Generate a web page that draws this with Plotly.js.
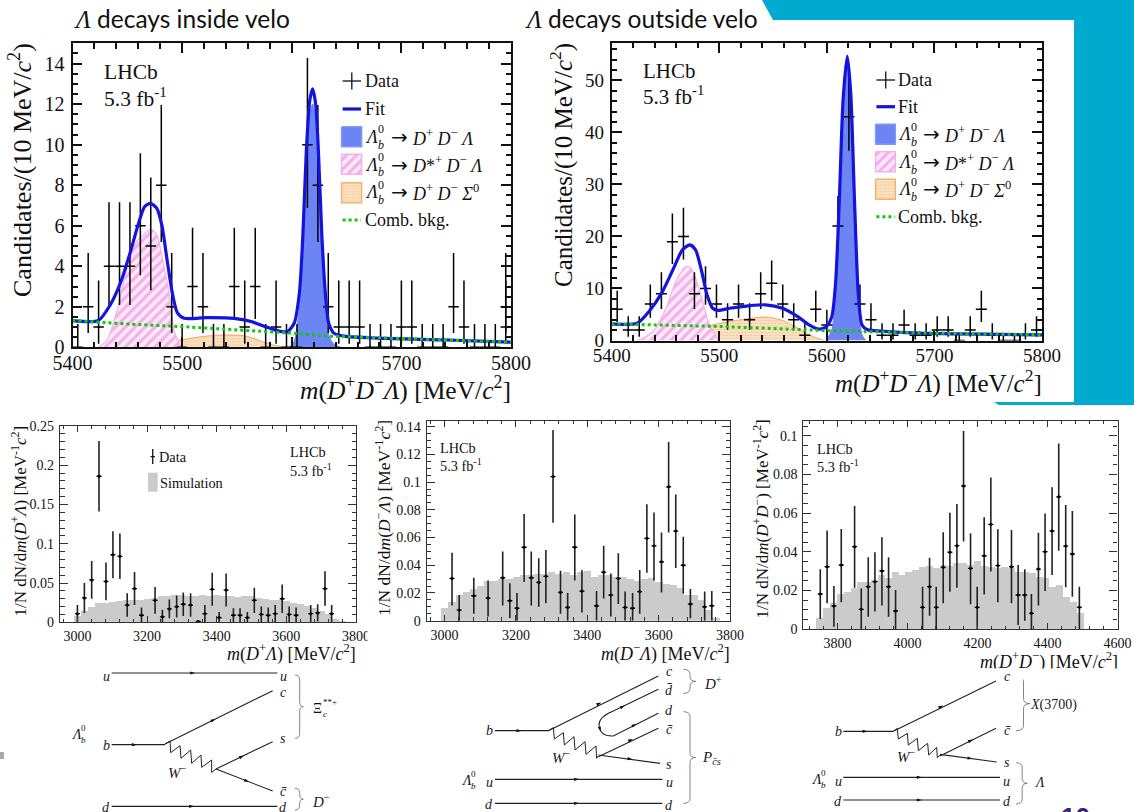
<!DOCTYPE html>
<html>
<head>
<meta charset="utf-8">
<script src="https://cdn.plot.ly/plotly-3.0.1.min.js"></script>
<style>html,body{margin:0;padding:0;background:#fff}#chart{width:1134px;height:812px}</style>
</head>
<body>
<div id="chart"></div>
<script>
// ---------- Top-left panel: Lambda decays inside velo ----------
const insideX = [5404.8,5414.3,5423.8,5433.3,5442.9,5452.4,5461.9,5471.4,5481,5490.5,5500,5509.5,5519,5528.6,5538.1,5547.6,5557.1,5566.7,5576.2,5585.7,5595.2,5604.8,5614.3,5623.8,5633.3,5642.9,5652.4,5661.9,5671.4,5681,5690.5,5700,5709.5,5719,5728.6,5738.1,5747.6,5757.1,5766.7,5776.2,5785.7,5795.2,5795.2];
const insideY = [0,2,1,4,4,4,6,5,8,2,0,3,2,0,0,3,1,3,0,1,0,0,10,8,2,1,1,1,0,0,0,1,1,0,0,0,2,1,0,0,0,1,2];
const insideFitX = [5400,5423.5,5434.5,5443.9,5453.3,5459.6,5465.9,5471.2,5476.9,5481.6,5486.3,5491,5495.7,5502,5522.3,5547.4,5563,5575.7,5585,5596,5602.3,5607,5610.2,5613.3,5616.5,5619,5621.8,5624.3,5627.4,5630.6,5633.7,5638.4,5647.8,5679,5742,5800];
const insideFitY = [1.32,1.32,2.1,3.2,4.8,6,6.95,7.1,6.85,6,4.3,2.7,1.7,1.43,1.46,1.43,1.27,1.02,0.85,0.77,1.2,2.7,5.6,9.7,12.2,12.75,12,9.7,5.6,2.7,1.2,0.7,0.55,0.45,0.36,0.25];
const insideSigX = [5598,5602,5607,5610.2,5613.3,5616.5,5619,5621.8,5624.3,5627.4,5630.6,5633.7,5638.4,5645];
const insideSigY = [0,0.25,1.9,4.8,8.95,11.4,12,11.2,8.9,4.8,1.95,0.6,0.15,0];
const insideStarX = [5423.5,5431.4,5440.8,5450.2,5459.6,5465.9,5471.2,5476.9,5481.6,5487.9,5492.6,5498.9];
const insideStarY = [0,0.35,1.85,4,5.3,5.6,5.83,5.55,4.5,2.7,0.85,0];
const insideSigmaX = [5440.8,5469,5497.3,5522.3,5538,5556.9,5569.4,5582,5594.5];
const insideSigmaY = [0,0.1,0.35,0.55,0.6,0.57,0.35,0.12,0];
const insideBkgX = [5400,5450,5500,5600,5635,5710,5800];
const insideBkgY = [1.33,1.15,1.02,0.7,0.55,0.4,0.25];

// ---------- Top-right panel: Lambda decays outside velo ----------
const outsideX = [5405.1,5415.4,5425.6,5435.9,5446.2,5456.4,5466.7,5476.9,5487.2,5497.4,5507.7,5517.9,5528.2,5538.5,5548.7,5559,5569.2,5579.5,5589.7,5600,5610.3,5620.5,5630.8,5641,5651.3,5661.5,5671.8,5682.1,5692.3,5702.6,5712.8,5723.1,5733.3,5743.6,5753.8,5764.1,5774.4,5784.6,5794.9];
const outsideY = [6,2,2,7,9,19,20,9,10,7,4,7,4,9,11,7,4,1,6,3,22,43,7,4,1,1,3,1,1,2,2,0,2,6,1,0,0,1,2];
const outsideFitX = [5400,5423.6,5435.9,5446.4,5456.9,5465.7,5472.8,5478,5483.3,5488.6,5493.9,5499.1,5509.7,5527.2,5543.1,5558.9,5572.9,5583.5,5592.3,5599.3,5604.6,5608.1,5611.6,5615.1,5619,5622.2,5625.7,5629.2,5632.7,5638,5650.3,5685.4,5800];
const outsideFitY = [3.2,3.33,5.9,9.1,13.6,17.4,18.4,17.4,13.6,8.8,6.2,5.8,6.2,6.67,6.86,6.2,4.6,3,2.2,2.6,4.6,11,27,46.3,54.7,47.6,27,9.1,3,2.05,1.8,1.4,1.1];
const outsideSigX = [5599.3,5604.6,5608.1,5611.6,5615.1,5619,5622.2,5625.7,5629.2,5632.7,5636];
const outsideSigY = [0,2,8.5,24.7,44,52.4,45.3,24.7,6.8,1,0];
const outsideStarX = [5423.6,5428.8,5439.4,5449.9,5460.5,5469.2,5472.8,5478,5483.3,5490.3,5499.1];
const outsideStarY = [0,0.4,2,5.9,11.7,14.2,14.1,12,8.5,3.3,0];
const outsideSigmaX = [5439.4,5456.9,5481.5,5509.7,5530.8,5544.8,5558.9,5572.9,5587,5597.5];
const outsideSigmaY = [0,0.77,2.4,3.65,4.3,4.5,3.85,2.4,0.77,0];
const outsideBkgX = [5400,5500,5600,5700,5800];
const outsideBkgY = [3.2,2.7,1.9,1.4,1.1];

// Poisson intervals used for the count data in the two upper panels
const countUp = {0:1.15,1:2.3,2:2.65,3:2.9,4:3.16,5:3.38,6:3.58,7:3.77,8:3.95,9:4.1,10:4.27,11:4.4,19:5.4,20:5.5,22:5.76,43:7.6};
const countDown = {0:0,1:0.83,2:1.3,3:1.6,4:1.91,5:2.18,6:2.45,7:2.64,8:2.8,9:2.96,10:3.11,11:3.3,19:4.3,20:4.44,22:4.67,43:6.5};

// ---------- Bottom-left panel: m(D+ Lambda) ----------
const dpX = [3000,3020,3041,3062,3082,3102,3122,3143,3164,3184,3223,3244,3264,3285,3304,3325,3347,3366,3387,3407,3427,3448,3467,3488,3508,3528,3548,3568,3588,3608,3628,3670,3690,3711,3730];
const dpY = [.011,.031,.054,.186,.052,.086,.084,.022,.043,.009,.028,.007,.017,.020,.023,.022,.001,.011,.042,.006,.041,.009,.009,.006,.028,.010,.009,.011,.030,.010,.009,.011,.012,.043,.011];
const dpErr = [.011,.019,.024,.045,.024,.03,.029,.015,.021,.01,.017,.009,.012,.014,.015,.015,.001,.011,.021,.007,.021,.009,.009,.007,.016,.010,.01,.011,.018,.01,.01,.011,.011,.022,.011];
const dpSimX = [3000,3020,3040,3060,3080,3100,3120,3140,3160,3180,3200,3220,3240,3260,3280,3300,3320,3340,3360,3380,3400,3420,3440,3460,3480,3500,3520,3540,3560,3580,3600,3620,3640,3660,3680,3700,3720,3740,3760];
const dpSimY = [.008,.015,.02,.024,.025,.026,.027,.028,.028,.029,.03,.031,.033,.034,.035,.035,.034,.034,.035,.033,.035,.034,.033,.032,.033,.033,.031,.03,.029,.028,.027,.025,.023,.021,.018,.014,.011,.004,.002];

// ---------- Bottom-middle panel: m(D- Lambda) ----------
const dmX = [3021,3041,3082,3122,3163,3183,3203,3223,3243,3264,3284,3304,3325,3345,3365,3385,3426,3446,3466,3487,3506,3527,3547,3567,3587,3608,3628,3648,3669,3689,3729,3749];
const dmY = [.0305,.0077,.018,.0163,.031,.0144,.009,.053,.031,.0276,.032,.104,.0204,.0096,.053,.0214,.0108,.035,.0185,.0305,.0096,.009,.021,.0594,.054,.0425,.0966,.0647,.04,.012,.01,.0108];
const dmHi = [.049,.0185,.031,.029,.05,.027,.02,.077,.05,.045,.051,.1375,.036,.02,.0767,.0365,.0214,.054,.034,.0486,.021,.02,.0365,.084,.078,.0637,.129,.091,.0606,.0228,.021,.0214];
const dmLo = [.011,0,.005,.003,.011,.002,0,.028,.011,.01,.0125,.0707,.005,0,.029,.006,0,.016,.003,.012,0,0,.005,.0346,.029,.0204,.0637,.038,.0197,.0017,0,0];
const dmSimX = [3000,3020,3040,3060,3080,3100,3120,3140,3160,3180,3200,3220,3240,3260,3280,3300,3320,3340,3360,3380,3400,3420,3440,3460,3480,3500,3520,3540,3560,3580,3600,3620,3640,3660,3680,3700,3720,3740,3760];
const dmSimY = [.0095,.014,.019,.021,.023,.025,.029,.029,.03,.03,.032,.033,.033,.034,.034,.035,.034,.035,.033,.035,.036,.032,.033,.033,.032,.032,.03,.029,.03,.031,.028,.027,.026,.024,.019,.019,.015,.008,.002];

// ---------- Bottom-right panel: m(D+ D-) ----------
const ddX = [3750.5,3770,3789.5,3810.5,3848.6,3867.6,3887.6,3906.7,3926.7,3945.7,3965.7,4042.9,4062.9,4081.9,4101.9,4121,4141,4160,4180,4199,4219,4238,4258,4297,4316,4335,4354,4374,4393,4413,4432,4452,4471,4491];
const ddY = [.0181,.0322,.0119,.0331,.0426,.0102,.0219,.0245,.03,.0219,.0093,.0112,.0219,.0112,.0319,.0397,.0431,.074,.0314,.0112,.0379,.0541,.0328,.0322,.0176,.0176,.0081,.031,.04,.0507,.0684,.0429,.0388,.0112];
const ddHi = [.0309,.0509,.0222,.0517,.0636,.021,.0371,.0397,.0474,.0371,.0202,.0219,.0369,.0219,.05,.0602,.0647,.1024,.0495,.0219,.0578,.0784,.0516,.0512,.0331,.0309,.0181,.0498,.0598,.0733,.096,.0641,.061,.0219];
const ddLo = [.0052,.0133,.0012,.0138,.0214,0,.0064,.009,.0121,.0064,0,0,.0069,0,.0133,.0193,.0214,.0452,.0128,0,.0179,.0297,.0138,.0133,.0021,.0043,0,.0121,.0197,.0279,.0405,.0216,.0167,0];
const ddSimX = [3749.8,3769.4,3789,3808.6,3828.2,3847.8,3867.4,3887,3906.6,3926.2,3945.8,3965.4,3985,4004.6,4024.2,4043.8,4063.4,4083,4102.6,4122.2,4141.8,4161.4,4181,4200.6,4220.2,4239.8,4259.4,4279,4298.6,4318.2,4337.8,4357.4,4377,4396.6,4416.2,4435.8,4455.4,4475,4494.6];
const ddSimY = [.0055,.0107,.0133,.018,.0193,.021,.0245,.0245,.0253,.028,.0266,.0293,.028,.0293,.0305,.0322,.0328,.0314,.0331,.0328,.0343,.0343,.0331,.0352,.0326,.0322,.0317,.0322,.0314,.0297,.0293,.0288,.0271,.0262,.0219,.0228,.0167,.0141,.0081];

// ---------- Text ----------
const headerInside = '<i style="font-family:Liberation Serif">Λ</i> decays inside velo';
const headerOutside = '<i style="font-family:Liberation Serif">Λ</i> decays outside velo';
const massTitle = '<i>m</i>(<i>D</i><sup>+</sup><i>D</i><sup>−</sup><i>Λ</i>) [MeV/<i>c</i><sup>2</sup>]';
const candTitle = 'Candidates/(10 MeV/<i>c</i><sup>2</sup>)';
const lumi = '5.3 fb<sup>-1</sup>';

// ---------- Colours ----------
const TEAL='#00A9CE', BLUE='#1414DC', SIG='#6C84F4', PINK='#F6AEEC', ORANGE='#F5B26E', GREEN='#10C810', GREY='#CBCBCB';
const SERIF='Liberation Serif';

// ---------- Panels in pixels ----------
const W=1134,H=812;
const px=x=>x/W, py=y=>1-y/H;
const P={
 a:{l:72.5,r:511,t:43.3,b:347.3,xr:[5400,5800],yr:[0,15]},
 b:{l:611.7,r:1042,t:43,b:340.5,xr:[5400,5800],yr:[0,57.2]},
 c:{l:60,r:356,t:426,b:622.3,xr:[2950,3800],yr:[0,0.25]},
 d:{l:426.7,r:730,t:420.7,b:620.7,xr:[2950,3800],yr:[0,0.1443]},
 e:{l:803.3,r:1117.5,t:421,b:629,xr:[3702,4600],yr:[0,0.1076]}
};
function dataX(p,x){return p.xr[0]+(x-p.l)/(p.r-p.l)*(p.xr[1]-p.xr[0]);}
function dataY(p,y){return p.yr[0]+(p.b-y)/(p.b-p.t)*(p.yr[1]-p.yr[0]);}

function axisX(p,major,tick0,minor,size,len,lw,stand,col){return {
 domain:[px(p.l),px(p.r)],range:p.xr,tick0:tick0,dtick:major,ticks:'inside',ticklen:len,tickwidth:lw,tickcolor:col,
 showline:true,linecolor:col,linewidth:lw,mirror:'allticks',showgrid:false,zeroline:false,
 tickfont:{family:SERIF,size:size,color:'#111'},ticklabelstandoff:stand,
 minor:{dtick:minor,tick0:tick0,ticks:'inside',ticklen:len*0.55,tickwidth:lw,tickcolor:col,showgrid:false}};}
function axisY(p,major,minor,size,len,lw,stand,col){return {
 domain:[py(p.b),py(p.t)],range:p.yr,tick0:0,dtick:major,ticks:'inside',ticklen:len,tickwidth:lw,tickcolor:col,
 showline:true,linecolor:col,linewidth:lw,mirror:'allticks',showgrid:false,zeroline:false,
 tickfont:{family:SERIF,size:size,color:'#111'},ticklabelstandoff:stand,
 minor:{dtick:minor,tick0:0,ticks:'inside',ticklen:len*0.55,tickwidth:lw,tickcolor:col,showgrid:false}};}

const layout={width:W,height:H,autosize:false,margin:{l:0,r:0,t:0,b:0},paper_bgcolor:'#fff',plot_bgcolor:'rgba(0,0,0,0)',showlegend:false,bargap:0,hovermode:false,
 xaxis:Object.assign(axisX(P.a,100,5400,20,20,10,1.8,-3,'#111'),{anchor:'y'}),
 yaxis:Object.assign(axisY(P.a,2,0.5,20,10,1.8,2,'#111'),{anchor:'x'}),
 xaxis2:Object.assign(axisX(P.b,100,5400,20,19,10,1.8,-3,'#111'),{anchor:'y2'}),
 yaxis2:Object.assign(axisY(P.b,10,2,19,10,1.8,2,'#111'),{anchor:'x2'}),
 xaxis3:Object.assign(axisX(P.c,200,3000,40,14,6,1.2,1,'#333'),{anchor:'y3'}),
 yaxis3:Object.assign(axisY(P.c,0.05,0.01,14,8,1.2,2,'#333'),{anchor:'x3'}),
 xaxis4:Object.assign(axisX(P.d,200,3000,40,14,6,1.2,1,'#333'),{anchor:'y4'}),
 yaxis4:Object.assign(axisY(P.d,0.02,0.005,14,8,1.2,2,'#333'),{anchor:'x4'}),
 xaxis5:Object.assign(axisX(P.e,200,3800,40,14,6,1.2,1,'#333'),{anchor:'y5'}),
 yaxis5:Object.assign(axisY(P.e,0.02,0.005,14,8,1.2,2,'#333'),{anchor:'x5'}),
 shapes:[],annotations:[]};

// ---------- Traces ----------
const traces=[];
function fillTrace(x,y,ax,ay,color,line,pattern){
 const t={type:'scatter',mode:'lines',x:x,y:y,xaxis:ax,yaxis:ay,fill:'tozeroy',fillcolor:color,line:{color:line,width:1.2,shape:'spline',smoothing:0.8},hoverinfo:'skip'};
 if(pattern)t.fillpattern=pattern; return t;}
const hatch={shape:'/',fgcolor:PINK,bgcolor:'#FDEBFA',size:7,solidity:0.45};
const dots={shape:'.',fgcolor:'#F6C995',bgcolor:'#FBE6CC',size:3,solidity:0.4};
function massPanel(ax,ay,d){
 traces.push(fillTrace(d.sigmaX,d.sigmaY,ax,ay,'#FBE6CC',ORANGE,dots));
 traces.push(fillTrace(d.starX,d.starY,ax,ay,'rgba(255,255,255,0)',PINK,hatch));
 traces.push(fillTrace(d.sigX,d.sigY,ax,ay,SIG,SIG));
 traces.push({type:'scatter',mode:'markers',x:d.x,y:d.y,xaxis:ax,yaxis:ay,marker:{color:'#000',size:2},cliponaxis:true,
  error_y:{type:'data',symmetric:false,array:d.y.map(v=>countUp[v]),arrayminus:d.y.map(v=>countDown[v]),color:'#000',thickness:1.5,width:0},
  error_x:{type:'constant',value:d.hw,color:'#000',thickness:1.5,width:0}});
 traces.push({type:'scatter',mode:'lines',x:d.fitX,y:d.fitY,xaxis:ax,yaxis:ay,line:{color:BLUE,width:3.2,shape:'spline',smoothing:0.7}});
 traces.push({type:'scatter',mode:'lines',x:d.bkgX,y:d.bkgY,xaxis:ax,yaxis:ay,line:{color:GREEN,width:3,dash:'dot'}});
}
massPanel('x','y',{x:insideX,y:insideY,hw:4.76,fitX:insideFitX,fitY:insideFitY,sigX:insideSigX,sigY:insideSigY,starX:insideStarX,starY:insideStarY,sigmaX:insideSigmaX,sigmaY:insideSigmaY,bkgX:insideBkgX,bkgY:insideBkgY});
massPanel('x2','y2',{x:outsideX,y:outsideY,hw:5.13,fitX:outsideFitX,fitY:outsideFitY,sigX:outsideSigX,sigY:outsideSigY,starX:outsideStarX,starY:outsideStarY,sigmaX:outsideSigmaX,sigmaY:outsideSigmaY,bkgX:outsideBkgX,bkgY:outsideBkgY});

function simPanel(ax,ay,sx,sy,bw,x,y,up,dn){
 traces.push({type:'bar',x:sx,y:sy,width:bw,xaxis:ax,yaxis:ay,marker:{color:GREY,line:{width:0}}});
 traces.push({type:'scatter',mode:'markers',x:x,y:y,xaxis:ax,yaxis:ay,marker:{color:'#000',size:3},
  error_y:{type:'data',symmetric:false,array:up,arrayminus:dn,color:'#222',thickness:1.6,width:0},
  error_x:{type:'constant',value:7,color:'#000',thickness:1.3,width:0}});
}
simPanel('x3','y3',dpSimX,dpSimY,20,dpX,dpY,dpErr,dpErr);
simPanel('x4','y4',dmSimX,dmSimY,20,dmX,dmY,dmHi.map((v,i)=>v-dmY[i]),dmLo.map((v,i)=>dmY[i]-v));
simPanel('x5','y5',ddSimX,ddSimY,19.6,ddX,ddY,ddHi.map((v,i)=>v-ddY[i]),ddLo.map((v,i)=>ddY[i]-v));

// Legend key boxes, placed by pixel through the panel scales
function keyBox(p,ax,ay,l,r,t,b,color,line,pattern){
 const t0={type:'scatter',mode:'lines',fill:'toself',fillcolor:color,line:{color:line,width:1.5},xaxis:ax,yaxis:ay,
  x:[l,r,r,l,l].map(v=>dataX(p,v)),y:[t,t,b,b,t].map(v=>dataY(p,v))};
 if(pattern)t0.fillpattern=pattern; traces.push(t0);
}
keyBox(P.a,'x','y',341.6,361.6,126.7,146.7,SIG,'#7f9bf0');
keyBox(P.a,'x','y',341.6,361.6,154.3,174.3,'rgba(255,255,255,0)',PINK,hatch);
keyBox(P.a,'x','y',341.6,361.6,182.7,202.7,'#FBE6CC',ORANGE,dots);
keyBox(P.b,'x2','y2',875.6,895.3,124.3,144.3,SIG,'#7f9bf0');
keyBox(P.b,'x2','y2',875.6,895.3,151.7,171.7,'rgba(255,255,255,0)',PINK,hatch);
keyBox(P.b,'x2','y2',875.6,895.3,179.3,199.3,'#FBE6CC',ORANGE,dots);

// ---------- Shape and text helpers ----------
const S=layout.shapes,A=layout.annotations;
function path(d,opt){S.push(Object.assign({type:'path',xref:'paper',yref:'paper',path:d,layer:'above',line:{color:'#111',width:1.1}},opt||{}));}
function seg(pts){return pts.map((q,i)=>(i?'L':'M')+px(q[0])+' '+py(q[1])).join(' ');}
function line(x0,y0,x1,y1,color,w,dash){path(seg([[x0,y0],[x1,y1]]),{line:{color:color||'#111',width:w||1.1,dash:dash||'solid'}});}
function note(text,x,y,size,o){o=o||{};A.push({text:text,x:px(x),y:py(y),xref:'paper',yref:'paper',showarrow:false,xanchor:o.xa||'left',yanchor:o.ya||'middle',textangle:o.rot||0,
 font:{family:o.fam||SERIF,size:size,color:o.col||'#111',weight:o.w||'normal'},borderpad:0,borderwidth:0});}

// Slide background
path(seg([[762,0],[773,20],[1074,20],[1074,402],[994,402],[999,405],[1134,405],[1134,0]])+' Z',{fillcolor:TEAL,line:{width:0},layer:'below'});
path('M'+px(0)+' '+py(752)+' L'+px(4)+' '+py(752)+' L'+px(4)+' '+py(759)+' L'+px(0)+' '+py(759)+' Z',{fillcolor:'#AAAAAA',line:{width:0}});

// Headers
note(headerInside,74,18,24.5,{fam:'Lato'});
note(headerOutside,525,18,24.5,{fam:'Lato'});

// Axis titles
note(massTitle,511,388,25.5,{xa:'right'});
note(massTitle,1042,381.5,25,{xa:'right'});
note(candTitle,20,43,26,{rot:-90,xa:'center',ya:'top'});
note(candTitle,561,43,25,{rot:-90,xa:'center',ya:'top'});
note('<i>m</i>(<i>D</i><sup>+</sup><i>Λ</i>) [MeV/<i>c</i><sup>2</sup>]',356,653,18,{xa:'right'});
note('<i>m</i>(<i>D</i><sup>−</sup><i>Λ</i>) [MeV/<i>c</i><sup>2</sup>]',730,653,18,{xa:'right'});
note('<i>m</i>(<i>D</i><sup>+</sup><i>D</i><sup>−</sup>) [MeV/<i>c</i><sup>2</sup>]',1117.5,661,18,{xa:'right'});
note('1/N dN/d<i>m</i>(<i>D</i><sup>+</sup><i>Λ</i>) [MeV<sup>-1</sup><i>c</i><sup>2</sup>]',18,426,17,{rot:-90,xa:'center',ya:'top'});
note('1/N dN/d<i>m</i>(<i>D</i><sup>−</sup><i>Λ</i>) [MeV<sup>-1</sup><i>c</i><sup>2</sup>]',383,420,17.5,{rot:-90,xa:'center',ya:'top'});
note('1/N dN/d<i>m</i>(<i>D</i><sup>+</sup><i>D</i><sup>−</sup>) [MeV<sup>-1</sup><i>c</i><sup>2</sup>]',760,420,17,{rot:-90,xa:'center',ya:'top'});

// White masks: the reference crops a tick label and one axis title
A.push({text:' ',x:px(367),y:py(624),xref:'paper',yref:'paper',xanchor:'left',yanchor:'top',showarrow:false,bgcolor:'#fff',width:6,height:22,borderpad:0});
A.push({text:' ',x:px(975),y:py(667.5),xref:'paper',yref:'paper',xanchor:'left',yanchor:'top',showarrow:false,bgcolor:'#fff',width:150,height:10,borderpad:0});

// LHCb labels
note('LHCb',104.3,71.7,21.5); note(lumi,104.3,97,21.5);
note('LHCb',643,70.7,21); note(lumi,643,95,21);
note('LHCb',290,452.3,14.3); note(lumi,290,470,14.3);
note('LHCb',440,448,14.3); note(lumi,440,465,14.3);
note('LHCb',817,449,14.3); note(lumi,817,466,14.3);

// Legends of the two mass fits
function stacked(base,sup,sub,x,y,size,subSize,dx){
 note(base,x,y,size); note(sup,x+dx,y-size*0.42,subSize); note(sub,x+dx,y+size*0.42,subSize);
}
function fitLegend(xl,xr,xt,xArrow,xD,yData,dh,yFit,rows,yBkg,size){
 const xm=(xl+xr)/2;
 line(xl,yData,xr,yData,'#111',1.3); line(xm,yData-dh,xm,yData+dh,'#111',1.3);
 note('Data',xt,yData,size);
 line(xl,yFit,xr,yFit,BLUE,3.2); note('Fit',xt,yFit,size);
 rows.forEach(r=>{
  stacked('<i>Λ</i>','0','<i>b</i>',xt,r[0],size,12,12.5);
  note('→',xArrow,r[0],20,{fam:'DejaVu Sans'}); note(r[1],xD,r[0],size);
 });
 line(xl,yBkg,xr,yBkg,GREEN,3,'dot'); note('Comb. bkg.',xt,yBkg,size);
}
const rowPlain='<i>D</i><sup>+</sup> <i>D</i><sup>−</sup> <i>Λ</i>';
const rowStar='<i>D</i>*<sup>+</sup> <i>D</i><sup>−</sup> <i>Λ</i>';
const rowSigma='<i>D</i><sup>+</sup> <i>D</i><sup>−</sup> <i>Σ</i><sup>0</sup>';
fitLegend(342.6,361,365,391,412,81,8.5,109,[[137,rowPlain],[164.5,rowStar],[192.5,rowSigma]],220,18);
fitLegend(876.4,895,898.3,922.6,944,80,8.5,106.7,[[134.5,rowPlain],[162,rowStar],[189.5,rowSigma]],216.7,18);

// Legend of the m(D+ Lambda) panel
line(152.7,449,152.7,464,'#222',1.4); line(150.5,456.7,155,456.7,'#111',1.2);
note('Data',159.3,457,14.3);
path(seg([[148,472.7],[157.7,472.7],[157.7,491.7],[148,491.7]])+' Z',{fillcolor:GREY,line:{width:0}});
note('Simulation',160,483.3,14.3);

// ---------- Quark-flow diagrams (coordinates of a 3x drawing grid) ----------
function diagram(x0,y0,d){
 const gx=v=>x0+v/3, gy=v=>y0+v/3;
 (d.lines||[]).forEach(l=>{
  path(seg([[gx(l[0]),gy(l[1])],[gx(l[2]),gy(l[3])]]),{line:{color:'#222',width:1.1}});
  if(l.length>4){arrow(gx(l[4]),gy(l[5]),Math.atan2(l[3]-l[1],l[2]-l[0]));}
 });
 if(d.w)path(seg(d.w.map(q=>[gx(q[0]),gy(q[1])])),{line:{color:'#222',width:1}});
 if(d.loop){
  const q=d.loop;
  path('M'+px(gx(q[0][0]))+' '+py(gy(q[0][1]))+' L'+px(gx(q[1][0]))+' '+py(gy(q[1][1]))+
   ' Q'+px(gx(q[2][0]))+' '+py(gy(q[2][1]))+' '+px(gx(q[3][0]))+' '+py(gy(q[3][1]))+
   ' Q'+px(gx(q[4][0]))+' '+py(gy(q[4][1]))+' '+px(gx(q[5][0]))+' '+py(gy(q[5][1]))+
   ' L'+px(gx(q[6][0]))+' '+py(gy(q[6][1])),{line:{color:'#222',width:1.1}});
  q[7].forEach(a=>arrow(gx(a[0]),gy(a[1]),a[2]));
 }
 (d.braces||[]).forEach(b=>{
  const xl=gx(b[0]),xt=gx(b[3]),xm=(xl+xt)/2+0.5,yt=gy(b[1]),yb=gy(b[2]),ym=(yt+yb)/2;
  const P2=(a,c)=>px(a)+' '+py(c);
  path('M'+P2(xl,yt)+' Q'+P2(xm,yt)+' '+P2(xm,yt+5)+' L'+P2(xm,ym-5)+' Q'+P2(xm,ym)+' '+P2(xt,ym)+' Q'+P2(xm,ym)+' '+P2(xm,ym+5)+' L'+P2(xm,yb-5)+' Q'+P2(xm,yb)+' '+P2(xl,yb),{line:{color:'#777',width:0.9}});
 });
 (d.labels||[]).forEach(t=>note('<i>'+t[0]+'</i>',gx(t[1]),gy(t[2]),t[3]||14,{xa:'center',col:'#222'}));
 (d.texts||[]).forEach(t=>note(t[0],gx(t[1]),gy(t[2]),t[3]||15,{xa:'center',col:'#222'}));
 (d.stack||[]).forEach(t=>stacked(t[0],t[1],t[2],gx(t[3]),gy(t[4]),14,9,t[5]));
}
function arrow(x,y,ang){
 const c=Math.cos(ang),s=Math.sin(ang),L=2.5,Wd=1.6;
 const pts=[[x+L*c,y+L*s],[x-L*c+Wd*s,y-L*s-Wd*c],[x-L*c-Wd*s,y-L*s+Wd*c]];
 path(seg(pts)+' Z',{fillcolor:'#111',line:{width:0}});
}
const LB=['<i>Λ</i>','0','<i>b</i>'];
diagram(0,660,{
 lines:[[335,39,832,39,578,39],[495,252,818,92,640,180],[335,254,495,254,403,254],[648,327,818,245,725,290],[648,327,818,393,740,363],[335,439,832,439,575,439]],
 w:[[495,252],[510,243],[512,278],[540,257],[543,295],[572,270],[575,310],[603,285],[605,322],[635,300],[635,337],[648,327]],
 braces:[[885,45,235,910],[885,385,450,910]],
 labels:[['u',318,48],['u',850,48],['c',850,97],['s',850,235],['c̄',850,395],['d',850,443],['d',318,443],['b',318,255]],
 texts:[['<i>W</i><sup>−</sup>',533,335],['<i>D</i><sup>−</sup>',962,422]],
 stack:[[LB[0],LB[1],LB[2],213,222,10],['Ξ','**+','<i>c</i>',940,145,10]]
});
diagram(400,660,{
 lines:[[285,212,445,212,357,212],[445,212,775,48,597,131],[595,290,775,205,692,240],[595,285,780,310,690,297],[285,358,787,358,530,358],[285,430,787,430,530,430]],
 w:[[445,212],[460,203],[463,237],[490,218],[493,255],[522,230],[525,270],[555,245],[558,283],[588,258],[590,295],[595,288]],
 loop:[[775,88],[640,153],[597,170],[597,195],[600,230],[640,228],[775,160],[[668,140,-0.46],[600,208,1.3],[703,195,-0.46]]],
 braces:[[850,28,100,887],[850,155,430,887]],
 labels:[['b',268,212],['u',268,368],['d',268,433],['c',808,35],['d̄',808,90],['d',808,150],['c̄',808,208],['s',808,312],['u',808,368],['d',808,435]],
 texts:[['<i>W</i><sup>−</sup>',485,292],['<i>D</i><sup>+</sup>',938,68],['<i>P</i><sub><i>c̄s</i></sub>',935,293]],
 stack:[[LB[0],LB[1],LB[2],182,360,10]]
});
diagram(780,660,{
 lines:[[190,214,340,214,255,214],[340,214,648,63,483,140],[480,288,648,205,572,242],[480,283,650,306,570,295],[190,352,660,352,418,352],[190,420,660,420,418,420]],
 w:[[340,214],[352,205],[355,237],[382,220],[385,255],[412,235],[415,272],[443,250],[446,285],[470,262],[472,293],[480,286]],
 braces:[[708,50,212,750],[708,308,432,742]],
 labels:[['b',175,214],['u',175,365],['d',175,425],['c',682,48],['c̄',682,212],['s',680,308],['u',680,365],['d',680,425],['Λ',777,368]],
 texts:[['<i>W</i><sup>−</sup>',378,287],['<i>X</i>(3700)',820,135,14]],
 stack:[[LB[0],LB[1],LB[2],92,358,10]]
});

// Page number, cropped by the bottom of the slide
note('10',1075,817,26,{xa:'center',fam:'Liberation Sans',col:'#3B1F70',w:'bold'});

Plotly.newPlot('chart',traces,layout,{displayModeBar:false,responsive:false});
</script>
</body>
</html>
